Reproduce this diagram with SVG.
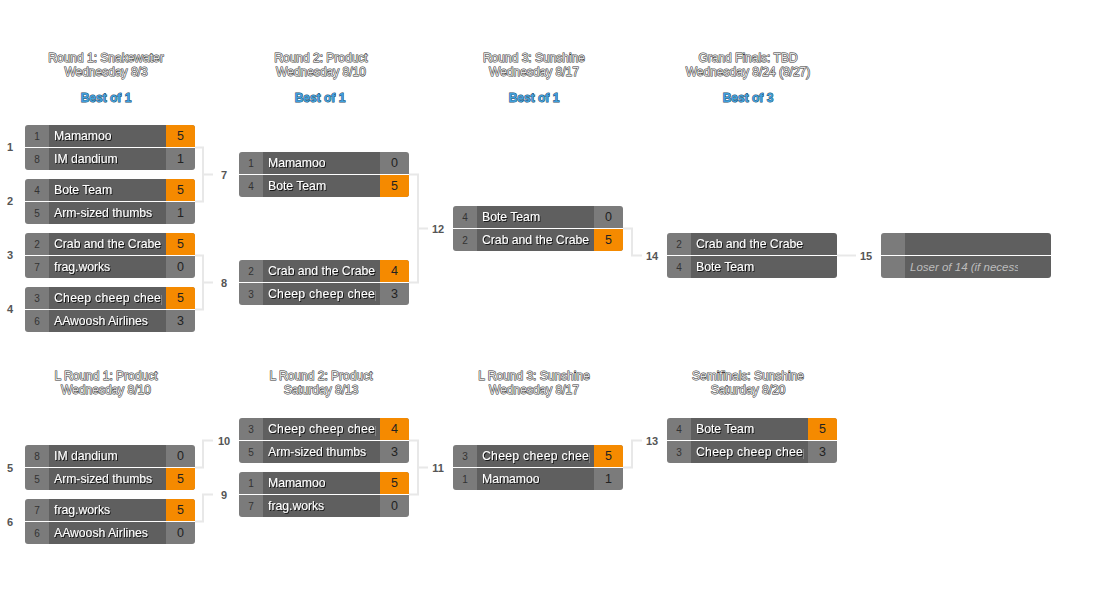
<svg xmlns="http://www.w3.org/2000/svg" width="1100" height="600" viewBox="0 0 1100 600">
<style>
.hd{font-family:"Liberation Sans",Arial,sans-serif;font-size:12px;text-anchor:middle;fill:#e4e4e4;stroke:#333;stroke-width:1;paint-order:stroke}
.bo{font-family:"Liberation Sans",Arial,sans-serif;font-size:12px;font-weight:bold;text-anchor:middle;fill:#3fa0dc;stroke:#1c4866;stroke-width:0.9;paint-order:stroke}
.lb{font-family:"Liberation Sans",Arial,sans-serif;font-size:11px;font-weight:bold;text-anchor:middle;fill:#555;dominant-baseline:central}
.sd{fill:#7b7b7b}
.nm{fill:#5f5f5f}
.win{fill:#f58a00}
.sep{fill:#fff}
.st{font-family:"Liberation Sans",Arial,sans-serif;font-size:10px;text-anchor:middle;fill:#333}
.tn{font-family:"Liberation Sans",Arial,sans-serif;font-size:12.2px;fill:#fff;filter:url(#sh)}
.wd{letter-spacing:0.3px}
.sc{font-family:"Liberation Sans",Arial,sans-serif;font-size:12.5px;text-anchor:middle;fill:#222}
.it{font-family:"Liberation Sans",Arial,sans-serif;font-size:11.5px;font-style:italic;fill:#bdbdbd}
.cn{fill:none;stroke:#e8e8e8;stroke-width:2}
</style>
<defs>
<filter id="sh" x="-10%" y="-30%" width="130%" height="170%"><feDropShadow dx="1" dy="1" stdDeviation="0.4" flood-color="#000" flood-opacity="0.75"/></filter>
<clipPath id="box"><rect x="0" y="0" width="170" height="45" rx="3"/></clipPath>
<clipPath id="nc"><rect x="24" y="0" width="113" height="45"/></clipPath>
<g id="base">
<rect class="sd" x="0" y="0" width="24" height="45"/>
<rect class="nm" x="24" y="0" width="117" height="45"/>
<rect class="sd" x="141" y="0" width="29" height="45"/>
</g>
<g id="baseNS">
<rect class="sd" x="0" y="0" width="24" height="45"/>
<rect class="nm" x="24" y="0" width="146" height="45"/>
</g>
</defs>
<rect width="1100" height="600" fill="#fff"/>

<g id="headers">
<text class="hd" x="106" y="62">Round 1: Snakewater</text>
<text class="hd" x="106" y="76">Wednesday 8/3</text>
<text class="bo" x="106" y="102">Best of 1</text>
<text class="hd" x="321" y="62">Round 2: Product</text>
<text class="hd" x="321" y="76">Wednesday 8/10</text>
<text class="bo" x="320" y="102">Best of 1</text>
<text class="hd" x="534" y="62">Round 3: Sunshine</text>
<text class="hd" x="534" y="76">Wednesday 8/17</text>
<text class="bo" x="534" y="102">Best of 1</text>
<text class="hd" x="748" y="62">Grand Finals: TBD</text>
<text class="hd" x="748" y="76">Wednesday 8/24 (8/27)</text>
<text class="bo" x="748" y="102">Best of 3</text>
<text class="hd" x="106" y="380">L Round 1: Product</text>
<text class="hd" x="106" y="394">Wednesday 8/10</text>
<text class="hd" x="321" y="380">L Round 2: Product</text>
<text class="hd" x="321" y="394">Saturday 8/13</text>
<text class="hd" x="534" y="380">L Round 3: Sunshine</text>
<text class="hd" x="534" y="394">Wednesday 8/17</text>
<text class="hd" x="748" y="380">Semifinals: Sunshine</text>
<text class="hd" x="748" y="394">Saturday 8/20</text>
</g>

<g id="connectors">
<path class="cn" d="M195,147.5H203V201.5H195M203,174.5H213"/>
<path class="cn" d="M195,255.5H203V309.5H195M203,282.5H213"/>
<path class="cn" d="M409,174.5H418V282.5H409M418,228.5H428"/>
<path class="cn" d="M623,228.5H632V255.5H642"/>
<path class="cn" d="M837,255.5H856"/>
<path class="cn" d="M195,467.5H203V440.5H213"/>
<path class="cn" d="M195,521.5H203V494.5H213"/>
<path class="cn" d="M409,440.5H418V494.5H409M418,467.5H428"/>
<path class="cn" d="M623,467.5H632V440.5H642"/>
</g>

<g id="labels">
<text class="lb" x="10" y="147">1</text>
<text class="lb" x="10" y="201">2</text>
<text class="lb" x="10" y="255">3</text>
<text class="lb" x="10" y="309">4</text>
<text class="lb" x="224" y="175">7</text>
<text class="lb" x="224" y="283">8</text>
<text class="lb" x="438" y="229">12</text>
<text class="lb" x="652" y="256">14</text>
<text class="lb" x="866" y="256">15</text>
<text class="lb" x="10" y="468">5</text>
<text class="lb" x="10" y="522">6</text>
<text class="lb" x="224" y="441">10</text>
<text class="lb" x="224" y="495">9</text>
<text class="lb" x="438" y="468">11</text>
<text class="lb" x="652" y="441">13</text>
</g>

<g id="m1" transform="translate(25,125)"><g clip-path="url(#box)"><use href="#base"/><rect class="win" x="141" y="0" width="29" height="22"/><rect class="sep" x="0" y="22" width="170" height="1"/></g>
<text class="st" x="12" y="15">1</text><text class="st" x="12" y="38">8</text>
<g clip-path="url(#nc)"><text class="tn" x="29" y="15">Mamamoo</text><text class="tn" x="29" y="38">IM dandium</text></g>
<text class="sc" x="155.5" y="15">5</text><text class="sc" x="155.5" y="38">1</text></g>

<g id="m2" transform="translate(25,179)"><g clip-path="url(#box)"><use href="#base"/><rect class="win" x="141" y="0" width="29" height="22"/><rect class="sep" x="0" y="22" width="170" height="1"/></g>
<text class="st" x="12" y="15">4</text><text class="st" x="12" y="38">5</text>
<g clip-path="url(#nc)"><text class="tn" x="29" y="15">Bote Team</text><text class="tn" x="29" y="38">Arm-sized thumbs</text></g>
<text class="sc" x="155.5" y="15">5</text><text class="sc" x="155.5" y="38">1</text></g>

<g id="m3" transform="translate(25,233)"><g clip-path="url(#box)"><use href="#base"/><rect class="win" x="141" y="0" width="29" height="22"/><rect class="sep" x="0" y="22" width="170" height="1"/></g>
<text class="st" x="12" y="15">2</text><text class="st" x="12" y="38">7</text>
<g clip-path="url(#nc)"><text class="tn" x="29" y="15">Crab and the Crabe</text><text class="tn" x="29" y="38">frag.works</text></g>
<text class="sc" x="155.5" y="15">5</text><text class="sc" x="155.5" y="38">0</text></g>

<g id="m4" transform="translate(25,287)"><g clip-path="url(#box)"><use href="#base"/><rect class="win" x="141" y="0" width="29" height="22"/><rect class="sep" x="0" y="22" width="170" height="1"/></g>
<text class="st" x="12" y="15">3</text><text class="st" x="12" y="38">6</text>
<g clip-path="url(#nc)"><text class="tn wd" x="29" y="15">Cheep cheep cheep</text><text class="tn" x="29" y="38">AAwoosh Airlines</text></g>
<text class="sc" x="155.5" y="15">5</text><text class="sc" x="155.5" y="38">3</text></g>

<g id="m7" transform="translate(239,152)"><g clip-path="url(#box)"><use href="#base"/><rect class="win" x="141" y="23" width="29" height="22"/><rect class="sep" x="0" y="22" width="170" height="1"/></g>
<text class="st" x="12" y="15">1</text><text class="st" x="12" y="38">4</text>
<g clip-path="url(#nc)"><text class="tn" x="29" y="15">Mamamoo</text><text class="tn" x="29" y="38">Bote Team</text></g>
<text class="sc" x="155.5" y="15">0</text><text class="sc" x="155.5" y="38">5</text></g>

<g id="m8" transform="translate(239,260)"><g clip-path="url(#box)"><use href="#base"/><rect class="win" x="141" y="0" width="29" height="22"/><rect class="sep" x="0" y="22" width="170" height="1"/></g>
<text class="st" x="12" y="15">2</text><text class="st" x="12" y="38">3</text>
<g clip-path="url(#nc)"><text class="tn" x="29" y="15">Crab and the Crabe</text><text class="tn wd" x="29" y="38">Cheep cheep cheep</text></g>
<text class="sc" x="155.5" y="15">4</text><text class="sc" x="155.5" y="38">3</text></g>

<g id="m12" transform="translate(453,206)"><g clip-path="url(#box)"><use href="#base"/><rect class="win" x="141" y="23" width="29" height="22"/><rect class="sep" x="0" y="22" width="170" height="1"/></g>
<text class="st" x="12" y="15">4</text><text class="st" x="12" y="38">2</text>
<g clip-path="url(#nc)"><text class="tn" x="29" y="15">Bote Team</text><text class="tn" x="29" y="38">Crab and the Crabe</text></g>
<text class="sc" x="155.5" y="15">0</text><text class="sc" x="155.5" y="38">5</text></g>

<g id="m14" transform="translate(667,233)"><g clip-path="url(#box)"><use href="#baseNS"/><rect class="sep" x="0" y="22" width="170" height="1"/></g>
<text class="st" x="12" y="15">2</text><text class="st" x="12" y="38">4</text>
<g clip-path="url(#nc)"><text class="tn" x="29" y="15">Crab and the Crabe</text><text class="tn" x="29" y="38">Bote Team</text></g></g>

<g id="m15" transform="translate(881,233)"><g clip-path="url(#box)"><use href="#baseNS"/><rect class="sep" x="0" y="22" width="170" height="1"/></g>
<g clip-path="url(#nc)"><text class="it" x="29" y="38">Loser of 14 (if necessary)</text></g></g>

<g id="m5" transform="translate(25,445)"><g clip-path="url(#box)"><use href="#base"/><rect class="win" x="141" y="23" width="29" height="22"/><rect class="sep" x="0" y="22" width="170" height="1"/></g>
<text class="st" x="12" y="15">8</text><text class="st" x="12" y="38">5</text>
<g clip-path="url(#nc)"><text class="tn" x="29" y="15">IM dandium</text><text class="tn" x="29" y="38">Arm-sized thumbs</text></g>
<text class="sc" x="155.5" y="15">0</text><text class="sc" x="155.5" y="38">5</text></g>

<g id="m6" transform="translate(25,499)"><g clip-path="url(#box)"><use href="#base"/><rect class="win" x="141" y="0" width="29" height="22"/><rect class="sep" x="0" y="22" width="170" height="1"/></g>
<text class="st" x="12" y="15">7</text><text class="st" x="12" y="38">6</text>
<g clip-path="url(#nc)"><text class="tn" x="29" y="15">frag.works</text><text class="tn" x="29" y="38">AAwoosh Airlines</text></g>
<text class="sc" x="155.5" y="15">5</text><text class="sc" x="155.5" y="38">0</text></g>

<g id="m10" transform="translate(239,418)"><g clip-path="url(#box)"><use href="#base"/><rect class="win" x="141" y="0" width="29" height="22"/><rect class="sep" x="0" y="22" width="170" height="1"/></g>
<text class="st" x="12" y="15">3</text><text class="st" x="12" y="38">5</text>
<g clip-path="url(#nc)"><text class="tn wd" x="29" y="15">Cheep cheep cheep</text><text class="tn" x="29" y="38">Arm-sized thumbs</text></g>
<text class="sc" x="155.5" y="15">4</text><text class="sc" x="155.5" y="38">3</text></g>

<g id="m9" transform="translate(239,472)"><g clip-path="url(#box)"><use href="#base"/><rect class="win" x="141" y="0" width="29" height="22"/><rect class="sep" x="0" y="22" width="170" height="1"/></g>
<text class="st" x="12" y="15">1</text><text class="st" x="12" y="38">7</text>
<g clip-path="url(#nc)"><text class="tn" x="29" y="15">Mamamoo</text><text class="tn" x="29" y="38">frag.works</text></g>
<text class="sc" x="155.5" y="15">5</text><text class="sc" x="155.5" y="38">0</text></g>

<g id="m11" transform="translate(453,445)"><g clip-path="url(#box)"><use href="#base"/><rect class="win" x="141" y="0" width="29" height="22"/><rect class="sep" x="0" y="22" width="170" height="1"/></g>
<text class="st" x="12" y="15">3</text><text class="st" x="12" y="38">1</text>
<g clip-path="url(#nc)"><text class="tn wd" x="29" y="15">Cheep cheep cheep</text><text class="tn" x="29" y="38">Mamamoo</text></g>
<text class="sc" x="155.5" y="15">5</text><text class="sc" x="155.5" y="38">1</text></g>

<g id="m13" transform="translate(667,418)"><g clip-path="url(#box)"><use href="#base"/><rect class="win" x="141" y="0" width="29" height="22"/><rect class="sep" x="0" y="22" width="170" height="1"/></g>
<text class="st" x="12" y="15">4</text><text class="st" x="12" y="38">3</text>
<g clip-path="url(#nc)"><text class="tn" x="29" y="15">Bote Team</text><text class="tn wd" x="29" y="38">Cheep cheep cheep</text></g>
<text class="sc" x="155.5" y="15">5</text><text class="sc" x="155.5" y="38">3</text></g>
</svg>
